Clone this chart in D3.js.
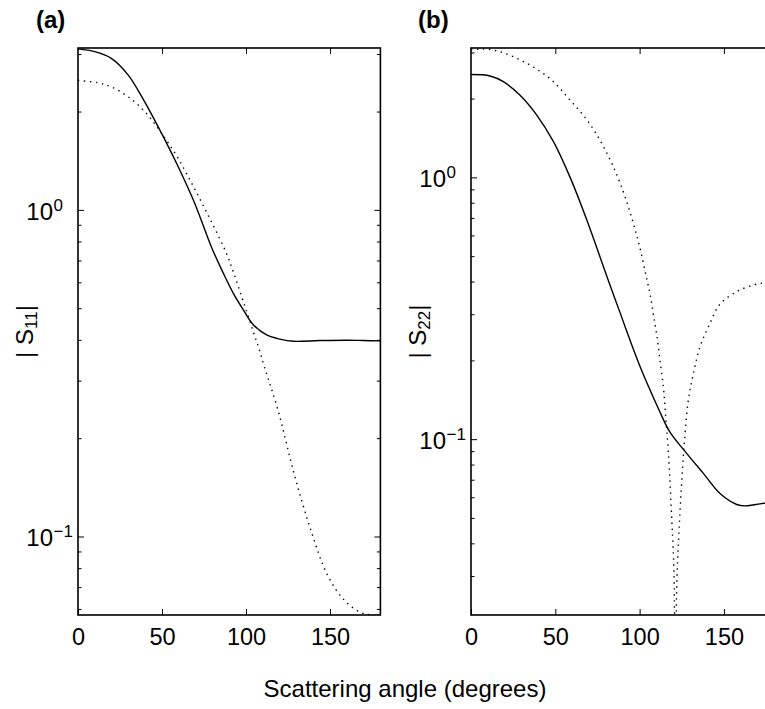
<!DOCTYPE html>
<html>
<head>
<meta charset="utf-8">
<script src="https://cdn.jsdelivr.net/npm/d3@7"></script>
<style>
  body { margin: 0; background: #fff; }
  svg { display: block; font-family: "Liberation Sans", Arial, sans-serif; }
</style>
</head>
<body>
<svg id="chart" width="765" height="709"></svg>
<script>
// scattering angle (degrees) and |S|
const s11SolidAngle = [0, 9.9, 19.8, 29.8, 39.7, 49.6, 59.5, 69.4, 79.4, 86.5, 92.4, 98.4, 104.3, 112.3, 120.2, 128.2, 144, 160, 170, 180];
const s11SolidValue = [3.11, 3.05, 2.91, 2.59, 2.14, 1.72, 1.36, 1.05, 0.77, 0.64, 0.556, 0.494, 0.445, 0.414, 0.402, 0.396, 0.398, 0.399, 0.398, 0.397];

const s11DotAngle = [0, 11.9, 19.8, 29.8, 39.7, 49.6, 59.5, 69.4, 79.4, 88.5, 92.4, 96.4, 100.4, 104.3, 107.3, 111, 119, 128.6, 138.5, 148.4, 158.3, 168.3, 174, 180];
const s11DotValue = [2.49, 2.45, 2.38, 2.22, 2.0, 1.72, 1.44, 1.16, 0.92, 0.733, 0.647, 0.562, 0.489, 0.424, 0.382, 0.33, 0.244, 0.156, 0.105, 0.0764, 0.064, 0.0585, 0.0576, 0.0572];

const s22SolidAngle = [0, 11.3, 19.2, 29.1, 39, 48.9, 58.8, 68.7, 78.6, 83.5, 88.5, 94.3, 100.2, 106.2, 111.1, 118, 127.9, 137.8, 147.7, 157.6, 162.5, 168, 174.4, 180];
const s22SolidValue = [2.47, 2.44, 2.32, 2.06, 1.73, 1.37, 1.0, 0.687, 0.455, 0.371, 0.303, 0.239, 0.19, 0.154, 0.131, 0.1063, 0.0883, 0.074, 0.062, 0.0563, 0.0556, 0.0562, 0.057, 0.0578];

const s22DotAngle = [0, 5, 11.3, 19.2, 29.1, 39, 48.9, 58.8, 68.7, 78.6, 88.5, 98.5, 104.4, 106.2, 108.2, 110.3, 112.1, 114.1, 115.1, 117.1, 119.1, 120.4, 121.2, 122, 123.2, 124.8, 126.5, 128.9, 131.9, 135.8, 141.5, 147.7, 157.6, 167.5, 174.4, 180];
const s22DotValue = [3.07, 3.09, 3.08, 2.99, 2.81, 2.59, 2.32, 1.97, 1.66, 1.31, 0.948, 0.593, 0.405, 0.358, 0.298, 0.246, 0.2, 0.158, 0.131, 0.088, 0.049, 0.0307, 0.006, 0.0273, 0.0424, 0.0657, 0.096, 0.141, 0.178, 0.225, 0.275, 0.328, 0.366, 0.388, 0.396, 0.40];

const xTicks = [0, 50, 100, 150];
const yMajor = [0.1, 1];
const yExp = ["\u22121", "0"];

const svg = d3.select("#chart");
const plotTop = 48, plotBottom = 615;

function drawPanel(p) {
  const x = d3.scaleLinear().domain([0, 180]).range([p.left, p.right]);
  const y = d3.scaleLog().domain(p.yDomain).range([plotBottom, plotTop]);

  const g = svg.append("g");

  g.append("clipPath").attr("id", p.id + "-clip")
    .append("rect")
    .attr("x", p.left).attr("y", plotTop)
    .attr("width", p.right - p.left).attr("height", plotBottom - plotTop);

  // minor log ticks between decades
  const minor = [];
  [0.01, 0.1, 1].forEach(d => {
    for (let k = 2; k <= 9; k++) {
      const v = d * k;
      if (v > p.yDomain[0] && v < p.yDomain[1]) minor.push(v);
    }
  });

  const tickStyle = sel => {
    sel.select(".domain").remove();
    sel.selectAll("line").attr("stroke", "#000").attr("stroke-width", 1);
  };

  // bottom axis with labels
  g.append("g")
    .attr("transform", `translate(0,${plotBottom})`)
    .call(d3.axisBottom(x).tickValues(xTicks).tickSize(-6).tickPadding(13))
    .call(tickStyle)
    .call(a => a.selectAll("text").attr("font-size", 23.5).attr("fill", "#000")
      .attr("font-family", "Liberation Sans, Arial, sans-serif"));

  // top axis ticks
  g.append("g")
    .attr("transform", `translate(0,${plotTop})`)
    .call(d3.axisTop(x).tickValues(xTicks.slice(1)).tickSize(-6).tickFormat(""))
    .call(tickStyle);

  // left / right major and minor ticks
  [[d3.axisLeft, p.left], [d3.axisRight, p.right]].forEach(([axisFn, pos]) => {
    g.append("g")
      .attr("transform", `translate(${pos},0)`)
      .call(axisFn(y).tickValues(yMajor).tickSize(-6).tickFormat(""))
      .call(tickStyle);
    g.append("g")
      .attr("transform", `translate(${pos},0)`)
      .call(axisFn(y).tickValues(minor).tickSize(-3.5).tickFormat(""))
      .call(tickStyle);
  });

  // y tick labels: 10 with superscript exponent
  const yl = g.append("g").attr("font-size", 24).attr("fill", "#000");
  yMajor.forEach((v, i) => {
    yl.append("text")
      .attr("x", p.left - 25).attr("y", y(v) + 10)
      .attr("text-anchor", "end")
      .text("10");
    yl.append("text")
      .attr("x", p.left - 24.5).attr("y", y(v) + 1)
      .attr("font-size", 17)
      .text(yExp[i]);
  });

  // curves
  const line = d3.line()
    .x(d => x(d[0]))
    .y(d => y(d[1]))
    .curve(d3.curveCatmullRom.alpha(0.5));

  const plot = g.append("g").attr("clip-path", `url(#${p.id}-clip)`);

  plot.append("path")
    .datum(d3.zip(p.dotA, p.dotV))
    .attr("fill", "none")
    .attr("stroke", "#000")
    .attr("stroke-width", 1.4)
    .attr("stroke-dasharray", "1.4,4.6")
    .attr("d", line);

  plot.append("path")
    .datum(d3.zip(p.solidA, p.solidV))
    .attr("fill", "none")
    .attr("stroke", "#000")
    .attr("stroke-width", 1.4)
    .attr("d", line);

  // box
  g.append("rect")
    .attr("x", p.left).attr("y", plotTop)
    .attr("width", p.right - p.left).attr("height", plotBottom - plotTop)
    .attr("fill", "none").attr("stroke", "#000").attr("stroke-width", 1.6);

  // y label |S_ij|
  const lab = g.append("text")
    .attr("transform", `translate(${p.left - 45},${(plotTop + plotBottom) / 2}) rotate(-90)`)
    .attr("text-anchor", "middle")
    .attr("font-size", 24)
    .attr("fill", "#000");
  lab.append("tspan").text("| S");
  lab.append("tspan").attr("font-size", 17).attr("dy", 4).text(p.sub);
  lab.append("tspan").attr("dy", -4).text("|");

  // panel letter
  svg.append("text")
    .attr("x", p.letterX).attr("y", 28)
    .attr("font-size", 24).attr("font-weight", "bold")
    .text(p.letter);
}

drawPanel({
  id: "a", left: 78, right: 380.4, yDomain: [0.0575, 3.13],
  solidA: s11SolidAngle, solidV: s11SolidValue,
  dotA: s11DotAngle, dotV: s11DotValue,
  sub: "11", letter: "(a)", letterX: 36
});

drawPanel({
  id: "b", left: 471, right: 774.5, yDomain: [0.0213, 3.12],
  solidA: s22SolidAngle, solidV: s22SolidValue,
  dotA: s22DotAngle, dotV: s22DotValue,
  sub: "22", letter: "(b)", letterX: 418
});

svg.append("text")
  .attr("x", 405).attr("y", 697)
  .attr("text-anchor", "middle")
  .attr("font-size", 24)
  .text("Scattering angle (degrees)");
</script>
</body>
</html>
